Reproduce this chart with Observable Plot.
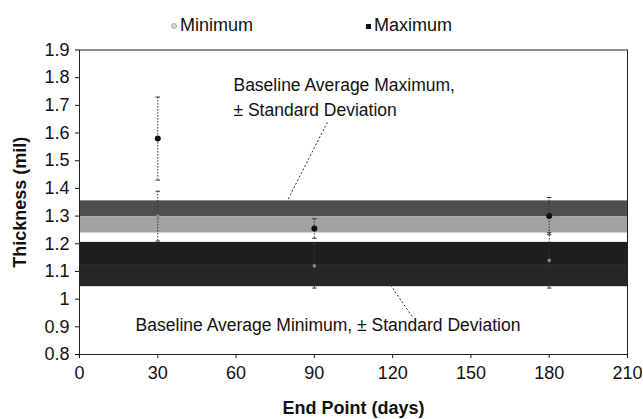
<!DOCTYPE html>
<html>
<head>
<meta charset="utf-8">
<script src="https://cdn.jsdelivr.net/npm/d3@7"></script>
<script src="https://cdn.jsdelivr.net/npm/@observablehq/plot@0.6"></script>
<style>
  body { margin: 0; background: #fff; font-family: "Liberation Sans", Arial, sans-serif; }
  #wrap { width: 643px; }
  #legend { position: relative; height: 36px; font-size: 18px; color: #111; }
  #legend .item { position: absolute; top: 15px; line-height: 20px; }
  #legend .sw { display: inline-block; vertical-align: middle; margin-right: 3px; }
</style>
</head>
<body>
<div id="wrap">
  <div id="legend">
    <span class="item" style="left:171px"><span class="sw" style="width:4px;height:4px;border:1px solid #aaa;background:#ddd;border-radius:50%"></span>Minimum</span>
    <span class="item" style="left:366px"><span class="sw" style="width:5px;height:5px;background:#111"></span>Maximum</span>
  </div>
  <div id="chart"></div>
</div>
<script>
// ---- data ----
const days = [30, 90, 180];
const maxMean = [1.58, 1.255, 1.30];
const maxSD = [0.15, 0.035, 0.067];
const minMean = [1.30, 1.12, 1.14];
const minSD = [0.09, 0.08, 0.10];

const baselineName = ["Maximum", "Minimum"];
const baselineMean = [1.297, 1.125];
const baselineSD = [0.058, 0.08];

const xTicks = [0, 30, 60, 90, 120, 150, 180, 210];
const yTicks = [0.8, 0.9, 1.0, 1.1, 1.2, 1.3, 1.4, 1.5, 1.6, 1.7, 1.8, 1.9];

const noteText = ["Baseline Average Maximum,", "± Standard Deviation", "Baseline Average Minimum, ± Standard Deviation"];
const noteX = [59, 59, 21.5];
const noteY = [1.772, 1.682, 0.906];

const leaderX1 = [95, 119.2];
const leaderY1 = [1.639, 1.051];
const leaderX2 = [79.7, 127.6];
const leaderY2 = [1.357, 0.935];

// ---- tables built from the arrays ----
const points = [];
days.forEach((d, i) => {
  points.push({series: "Minimum", day: d, mean: minMean[i], lo: minMean[i] - minSD[i], hi: minMean[i] + minSD[i]});
  points.push({series: "Maximum", day: d, mean: maxMean[i], lo: maxMean[i] - maxSD[i], hi: maxMean[i] + maxSD[i]});
});
const bandsUpperHalf = baselineName.map((n, i) => ({name: n, y1: baselineMean[i], y2: baselineMean[i] + baselineSD[i]}));
const bandsLowerHalf = baselineName.map((n, i) => ({name: n, y1: baselineMean[i] - baselineSD[i], y2: baselineMean[i]}));
const notes = noteText.map((t, i) => ({t, x: noteX[i], y: noteY[i]}));
const leaders = leaderX1.map((x, i) => ({x1: x, y1: leaderY1[i], x2: leaderX2[i], y2: leaderY2[i]}));

const capSymbol = {draw(ctx, size) { const r = Math.sqrt(size) / 2; ctx.moveTo(-r, 0); ctx.lineTo(r, 0); }};
const xDomain = [xTicks[0], xTicks[xTicks.length - 1]];

const fillUpper = {Maximum: "#4e4e4e", Minimum: "#1e1e1e"};
const fillLower = {Maximum: "#a2a2a2", Minimum: "#262626"};

const chart = Plot.plot({
  width: 643,
  height: 383,
  marginTop: 13.5,
  marginBottom: 65,
  marginLeft: 79,
  marginRight: 16,
  style: {fontFamily: '"Liberation Sans", Arial, sans-serif', fontSize: "18px", color: "#111", background: "#fff"},
  x: {domain: xDomain},
  y: {domain: [yTicks[0], yTicks[yTicks.length - 1]]},
  marks: [
    Plot.rect(bandsUpperHalf, {x1: xDomain[0], x2: xDomain[1], y1: "y1", y2: "y2", fill: d => fillUpper[d.name]}),
    Plot.rect(bandsLowerHalf, {x1: xDomain[0], x2: xDomain[1], y1: "y1", y2: "y2", fill: d => fillLower[d.name]}),
    Plot.ruleX(points, {x: "day", y1: "lo", y2: "hi", stroke: "#333", strokeWidth: 1, strokeDasharray: "1.5,1.5"}),
    Plot.dot(points, {x: "day", y: "lo", symbol: capSymbol, r: 2.5, stroke: "#333", strokeWidth: 1}),
    Plot.dot(points, {x: "day", y: "hi", symbol: capSymbol, r: 2.5, stroke: "#333", strokeWidth: 1}),
    Plot.dot(points.filter(d => d.series === "Minimum"), {x: "day", y: "mean", r: 1.8, fill: "#888"}),
    Plot.dot(points.filter(d => d.series === "Maximum"), {x: "day", y: "mean", r: 3, fill: "#111"}),
    Plot.link(leaders, {x1: "x1", y1: "y1", x2: "x2", y2: "y2", stroke: "#333", strokeWidth: 1, strokeDasharray: "2,2"}),
    Plot.text(notes, {x: "x", y: "y", text: "t", textAnchor: "start", fontSize: 17.5, fill: "#111"}),
    Plot.frame({stroke: "#222", strokeWidth: 1}),
    Plot.axisX({ticks: xTicks, tickSize: 4, tickPadding: 8, label: "End Point (days)", labelAnchor: "center", labelArrow: "none", labelOffset: 59}),
    Plot.axisY({ticks: yTicks, tickSize: 4, tickPadding: 6, tickFormat: d => String(+d.toFixed(1)), label: "Thickness (mil)", labelAnchor: "center", labelArrow: "none", labelOffset: 66})
  ]
});
chart.querySelectorAll('[aria-label="x-axis label"] text, [aria-label="y-axis label"] text').forEach(t => t.setAttribute("font-weight", "bold"));
document.getElementById("chart").appendChild(chart);
</script>
</body>
</html>
